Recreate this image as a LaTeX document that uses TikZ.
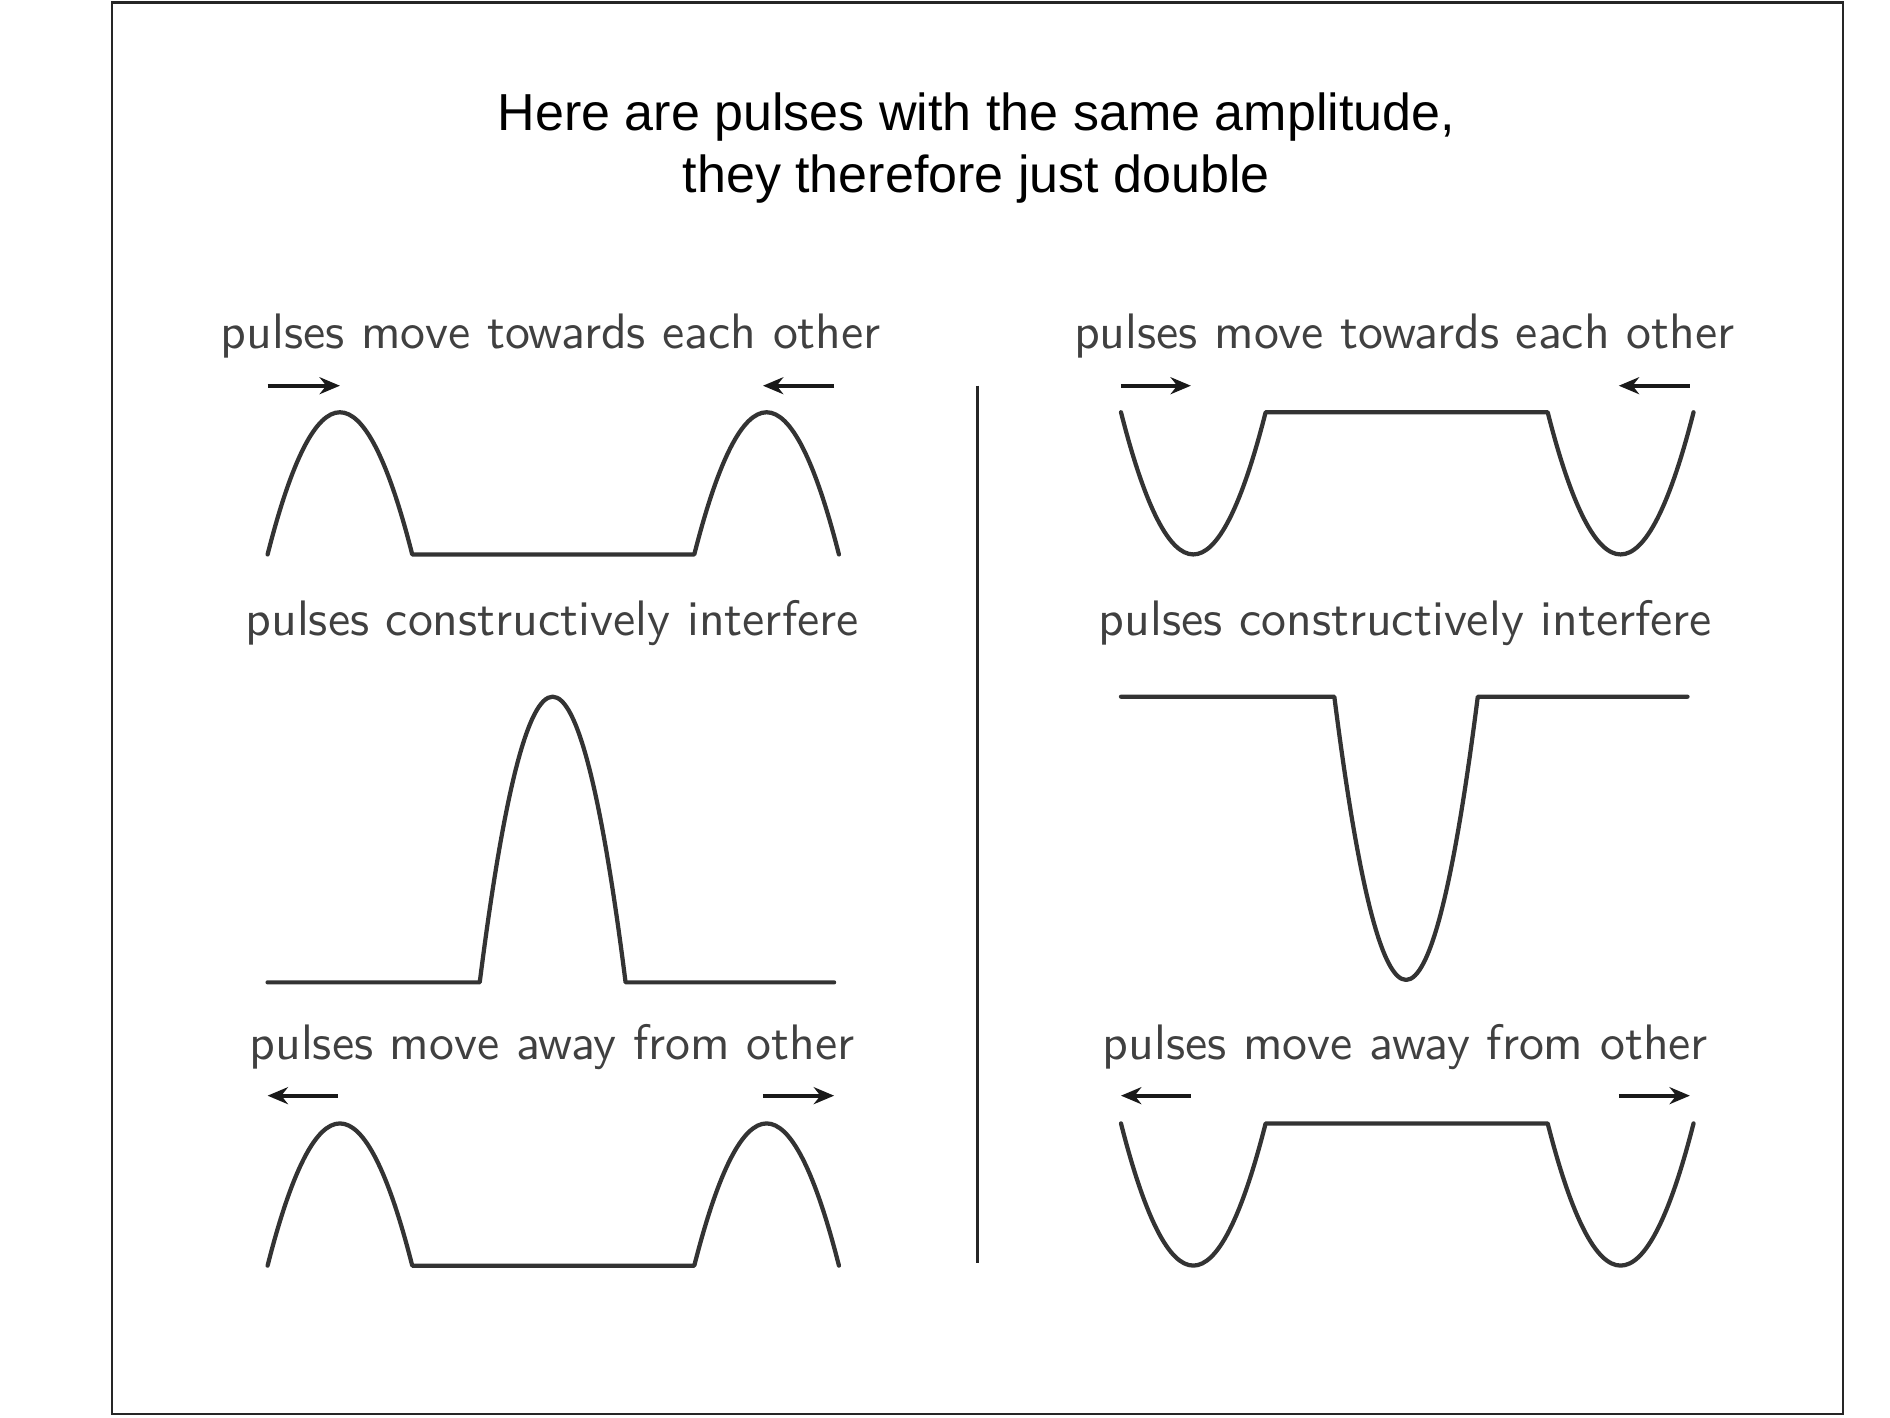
\documentclass[tikz,border=0pt]{standalone}
\usepackage{fontspec}
\newfontfamily\titlefont{Liberation Sans}
\newfontfamily\lblfont{lmsans10-regular.otf}
\usetikzlibrary{arrows.meta}
\begin{document}
\begin{tikzpicture}[x=0.025cm,y=-0.025cm,
  wave/.style={line width=2.5pt, draw=black!80, line join=round, line cap=round},
  lbl/.style={anchor=base, text=black!75, inner sep=0pt, font=\fontsize{29.4}{35}\selectfont\lblfont},
  ttl/.style={anchor=base, text=black, inner sep=0pt, font=\fontsize{30.7}{37}\selectfont\titlefont},
  arr/.style={line width=2.3pt, draw=black!90, -{Stealth[length=12pt,width=10pt]}}]
\useasboundingbox (0,0) rectangle (1568,1176);
\draw[line width=1.5pt, draw=black!85] (93,2) rectangle (1529,1173);
% title
\node[ttl] (t1) at (810,108) {Here are pulses with the same amplitude,};
\node[ttl] (t2) at (810,160) {they therefore just double};
% labels
\node[lbl] (l1) at (457,289) {pulses move towards each other};
\node[lbl] (r1) at (1165,289) {pulses move towards each other};
\node[lbl] (l2) at (458,527) {pulses constructively interfere};
\node[lbl] (r2) at (1166,527) {pulses constructively interfere};
\node[lbl] (l3) at (458,879) {pulses move away from other};
\node[lbl] (r3) at (1166,879) {pulses move away from other};
% divider
\draw[line width=1.6pt, draw=black!85] (811,320) -- (811,1048);
% top left
\draw[wave] (222,460) .. controls (262,302.7) and (302,302.7) .. (342,460) -- (576,460)
  .. controls (616,302.7) and (656,302.7) .. (696,460);
\draw[arr] (222,320) -- (282,320);
\draw[arr] (692,320) -- (633,320);
% top right
\draw[wave] (930,342) .. controls (970,499.3) and (1010,499.3) .. (1050,342) -- (1284,342)
  .. controls (1324,499.3) and (1365,499.3) .. (1405,342);
\draw[arr] (930,320) -- (988,320);
\draw[arr] (1402,320) -- (1343,320);
% middle left
\draw[wave] (222,815) -- (398,815) .. controls (438,499) and (479,499) .. (519,815) -- (692,815);
% middle right
\draw[wave] (930,578) -- (1107,578) .. controls (1146.7,891.3) and (1186.3,891.3) .. (1226,578) -- (1400,578);
% bottom left
\draw[wave] (222,1050) .. controls (262,892.7) and (302,892.7) .. (342,1050) -- (576,1050)
  .. controls (616,892.7) and (656,892.7) .. (696,1050);
\draw[arr] (280,909) -- (222,909);
\draw[arr] (633,909) -- (692,909);
% bottom right
\draw[wave] (930,932) .. controls (970,1089.3) and (1010,1089.3) .. (1050,932) -- (1284,932)
  .. controls (1324,1089.3) and (1365,1089.3) .. (1405,932);
\draw[arr] (988,909) -- (930,909);
\draw[arr] (1343,909) -- (1402,909);
\end{tikzpicture}
\end{document}
